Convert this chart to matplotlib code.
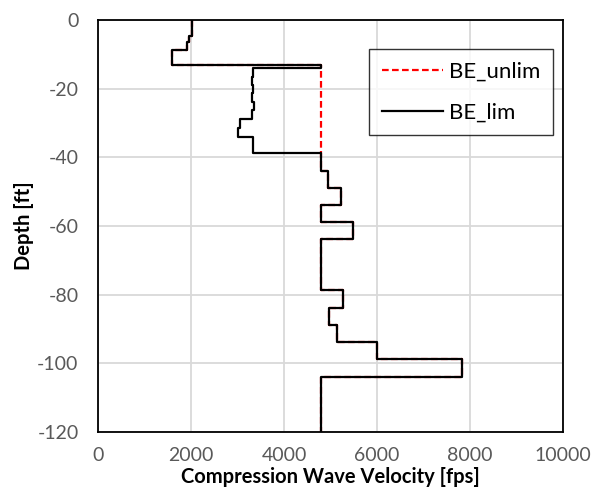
import numpy as np
import matplotlib.pyplot as plt

plt.rcParams['font.family'] = ['Lato', 'DejaVu Sans']
plt.rcParams['axes.unicode_minus'] = False

# layer boundaries [ft] and velocities [fps]
unlim_depths = [0, -4.6, -6.3, -8.7, -13.1, -43.9, -48.8, -53.9, -58.7, -63.8,
                -78.6, -83.8, -88.7, -93.7, -98.8, -103.9, -120]
unlim_vel = [2015, 1965, 1920, 1600, 4790, 4955, 5220, 4790, 5475, 4790,
             5260, 4975, 5135, 6005, 7835, 4790]

lim_depths = [0, -4.6, -6.3, -8.7, -13.1, -14.1, -16.5, -18.9, -21.4, -23.8,
              -26.2, -28.9, -31.5, -34.0, -38.8, -43.9, -48.8, -53.9, -58.7,
              -63.8, -78.6, -83.8, -88.7, -93.7, -98.8, -103.9, -120]
lim_vel = [2015, 1965, 1920, 1600, 4790, 3340, 3305, 3335, 3305, 3350,
           3305, 3055, 3020, 3340, 4790, 4955, 5220, 4790, 5475, 4790,
           5260, 4975, 5135, 6005, 7835, 4790]


def stairs(depths, vel):
    d = np.repeat(depths, 2)[1:-1]
    v = np.repeat(vel, 2)
    return v, d


fig = plt.figure(figsize=(6.01, 5.0), dpi=100)
ax = fig.add_axes([0.163, 0.136, 0.774, 0.824])

x, y = stairs(unlim_depths, unlim_vel)
ax.plot(x, y, color='#ff0000', ls=(0, (3, 1.5)), lw=1.6, label='BE_unlim')
x, y = stairs(lim_depths, lim_vel)
ax.plot(x, y, color='black', lw=1.6, label='BE_lim')

ax.set_xlim(0, 10000)
ax.set_ylim(-120, 0)
ax.set_xticks(np.arange(0, 10001, 2000))
ax.set_yticks(np.arange(-120, 1, 20))
ax.grid(color='#d9d9d9', lw=1.3)
ax.set_axisbelow(True)
ax.tick_params(length=0, labelsize=14, labelcolor='#595959')
ax.tick_params(axis='x', pad=11)
ax.tick_params(axis='y', pad=14)
for s in ax.spines.values():
    s.set_color('black')
    s.set_linewidth(1.3)

ax.set_xlabel('Compression Wave Velocity [fps]', fontsize=14.5, fontweight='bold', labelpad=2)
ax.set_ylabel('Depth [ft]', fontsize=14.5, fontweight='bold', labelpad=2)

leg = ax.legend(loc='upper right', bbox_to_anchor=(0.978, 0.929), fontsize=16,
                frameon=True, fancybox=False, handlelength=2.75, labelspacing=0.95,
                borderpad=0.55, handletextpad=0.3, borderaxespad=0)
leg.get_frame().set_edgecolor('black')
leg.get_frame().set_linewidth(1.0)

fig.savefig('out.png', dpi=100)
